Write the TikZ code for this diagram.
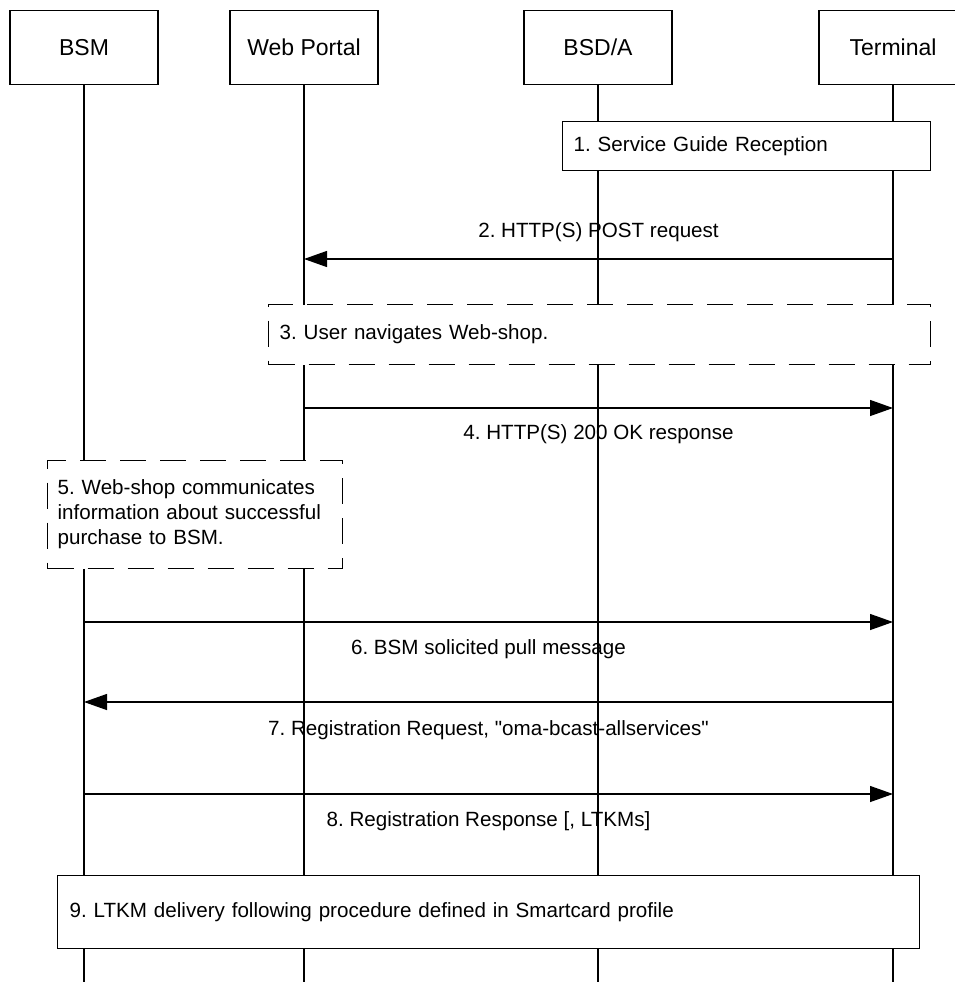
\documentclass[tikz,border=0pt]{standalone}
\usepackage{fontspec}
\setmainfont{Liberation Sans}
\usetikzlibrary{arrows.meta}
\frenchspacing
\begin{document}
\begin{tikzpicture}[x=1pt,y=-1pt,
  hdr/.style={draw, line width=1.3pt, fill=white, minimum width=148pt, minimum height=74pt,
    anchor=north, font=\fontsize{23}{27}\selectfont, inner sep=0pt},
  life/.style={line width=1.3pt},
  msg/.style={line width=1.3pt, -{Triangle[length=23pt,width=16pt]}},
  lbl/.style={font=\fontsize{20.6}{25}\selectfont, inner sep=0pt, anchor=base},
  solidbox/.style={draw, line width=1.3pt, fill=white, anchor=north west, align=left,
    font=\fontsize{20.6}{25}\selectfont, inner ysep=0pt},
  dashbox/.style={solidbox, dash pattern=on 26pt off 14pt}
]
\useasboundingbox (0,0) rectangle (955,982);

% header boxes
\node[hdr] (bsm)  at (84,10)  {BSM};
\node[hdr] (wp)   at (304,10) {Web Portal};
\node[hdr] (bsd)  at (598,10) {BSD/A};
\node[hdr] (term) at (893,10) {Terminal};

% lifeline ends
\coordinate (bsmE)  at (84,982);
\coordinate (wpE)   at (304,982);
\coordinate (bsdE)  at (598,982);
\coordinate (termE) at (893,982);

\draw[life] (bsm.south)  -- (bsmE);
\draw[life] (wp.south)   -- (wpE);
\draw[life] (bsd.south)  -- (bsdE);
\draw[life] (term.south) -- (termE);

% boxes
\node[solidbox, text width=346pt, inner xsep=11pt, minimum height=49pt] (b1) at (562,121)
  {1. Service Guide Reception};
\node[dashbox, text width=640pt, inner xsep=11pt, minimum height=60pt] (b3) at (268,304)
  {3. User navigates Web-shop.};
\node[dashbox, text width=275pt, inner xsep=10pt, minimum height=108pt] (b5) at (47,460)
  {5. Web-shop communicates\\information about successful\\purchase to BSM.};
\node[solidbox, text width=838pt, inner xsep=12pt, minimum height=73pt] (b9) at (57,875)
  {9. LTKM delivery following procedure defined in Smartcard profile};

% message end points
\coordinate (t2) at (893,259); \coordinate (w2) at (304,259);
\coordinate (w4) at (304,408); \coordinate (t4) at (893,408);
\coordinate (s6) at (84,622);  \coordinate (t6) at (893,622);
\coordinate (t7) at (893,702); \coordinate (s7) at (84,702);
\coordinate (s8) at (84,794);  \coordinate (t8) at (893,794);

\draw[msg] (t2) -- (w2);
\draw[msg] (w4) -- (t4);
\draw[msg] (s6) -- (t6);
\draw[msg] (t7) -- (s7);
\draw[msg] (s8) -- (t8);

% labels
\node[lbl] (l2) at (598.5,237) {2. HTTP(S) POST request};
\node[lbl] (l4) at (598.5,439) {4. HTTP(S) 200 OK response};
\node[lbl] (l6) at (488.5,654) {6. BSM solicited pull message};
\node[lbl] (l7) at (488.5,735) {7. Registration Request, \textquotedbl oma-bcast-allservices\textquotedbl};
\node[lbl] (l8) at (488.5,826) {8. Registration Response [, LTKMs]};
\end{tikzpicture}
\end{document}
